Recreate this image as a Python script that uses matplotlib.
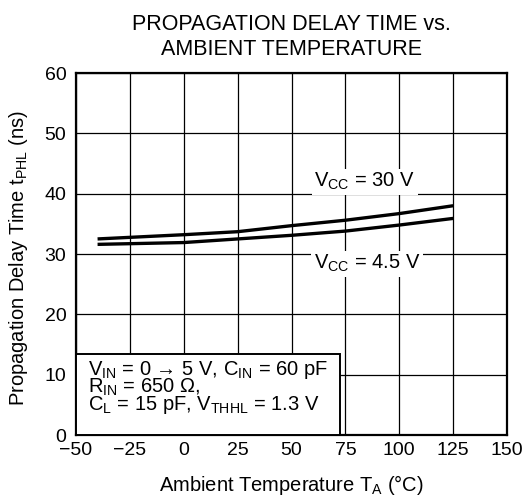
import numpy as np
import matplotlib
matplotlib.use('Agg')
import matplotlib.pyplot as plt
from matplotlib.patches import Rectangle

plt.rcParams['font.family'] = ['Liberation Sans', 'DejaVu Sans']
plt.rcParams['mathtext.fontset'] = 'custom'
plt.rcParams['mathtext.rm'] = 'Liberation Sans'
plt.rcParams['mathtext.it'] = 'Liberation Sans'

# propagation delay tPHL (ns) vs ambient temperature (degC)
temp = [-40, 0, 25, 50, 75, 100, 125]
tphl_30v = [32.5, 33.2, 33.7, 34.7, 35.6, 36.7, 38.0]
tphl_4v5 = [31.6, 31.9, 32.5, 33.1, 33.8, 34.8, 35.9]

xticks = [-50, -25, 0, 25, 50, 75, 100, 125, 150]
yticks = [0, 10, 20, 30, 40, 50, 60]

fig = plt.figure(figsize=(5.25, 4.97), dpi=100)
ax = fig.add_axes([0.1448, 0.1247, 0.8209, 0.7284])

ax.plot(temp, tphl_30v, color='black', lw=2.4, solid_capstyle='butt', zorder=3)
ax.plot(temp, tphl_4v5, color='black', lw=2.4, solid_capstyle='butt', zorder=3)

ax.set_xlim(-50, 150)
ax.set_ylim(0, 60)
ax.set_xticks(xticks)
ax.set_xticklabels(['\u2212%d' % -v if v < 0 else str(v) for v in xticks])
ax.set_yticks(yticks)
ax.tick_params(length=0, labelsize=14)
ax.tick_params(axis='x', pad=5)
ax.tick_params(axis='y', pad=7)
ax.grid(True, color='black', lw=0.9)
ax.set_axisbelow(True)
for s in ax.spines.values():
    s.set_linewidth(1.6)

ax.set_xlabel(r'Ambient Temperature T$_{\mathregular{A}}$ (°C)', fontsize=14.5, va='center')
ax.set_ylabel(r'Propagation Delay Time t$_{\mathregular{PHL}}$ (ns)', fontsize=14.5, va='center')
ax.xaxis.set_label_coords(0.5, -0.138)
ax.yaxis.set_label_coords(-0.1346, 0.49)
ax.set_title('PROPAGATION DELAY TIME vs.\nAMBIENT TEMPERATURE', fontsize=15.5, pad=13, linespacing=1.27)

lbl = dict(fontsize=14.5, ha='center', va='center', zorder=4,
           bbox=dict(boxstyle='square,pad=0.12', fc='white', ec='none'))
ax.text(84, 42.0, r'V$_{\mathregular{CC}}$ = 30 V', **lbl)
ax.text(85, 28.4, r'V$_{\mathregular{CC}}$ = 4.5 V', **lbl)

# test conditions box
ax.add_patch(Rectangle((0, 0), 0.613, 0.224, transform=ax.transAxes,
                       fc='white', ec='black', lw=1.4, zorder=4))
cond = [r'V$_{\mathregular{IN}}$ = 0 → 5 V, C$_{\mathregular{IN}}$ = 60 pF',
        r'R$_{\mathregular{IN}}$ = 650 Ω,',
        r'C$_{\mathregular{L}}$ = 15 pF, V$_{\mathregular{THHL}}$ = 1.3 V']
for i, s in enumerate(cond):
    ax.text(0.028, 0.166 - i * 0.048, s, transform=ax.transAxes, fontsize=14.5,
            ha='left', va='baseline', zorder=5)

fig.savefig('out.png', dpi=100)
